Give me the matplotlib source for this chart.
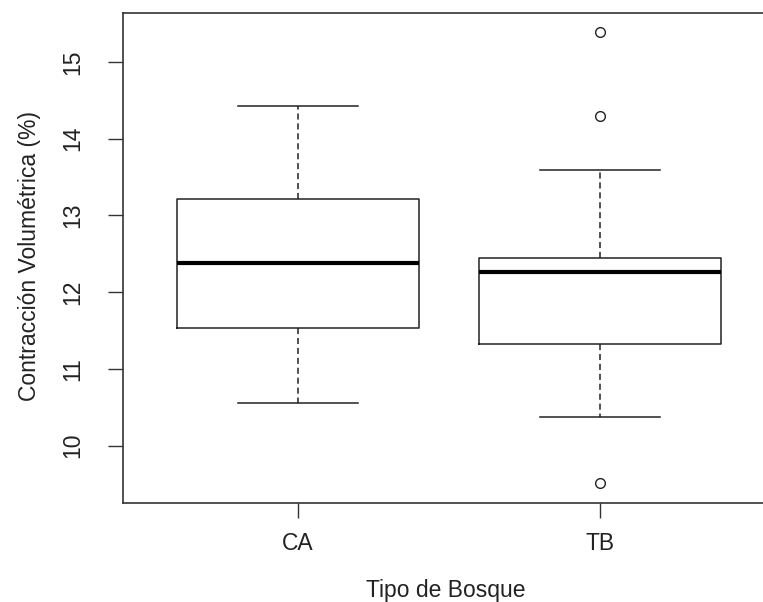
import matplotlib.pyplot as plt

plt.rcParams['font.family'] = ['Liberation Sans', 'DejaVu Sans']

# values
grupos = ['CA', 'TB']
bigote_inf = [10.56, 10.37]
q1 = [11.54, 11.32]
mediana = [12.38, 12.26]
q3 = [13.21, 12.44]
bigote_sup = [14.43, 13.59]
atipicos = [[], [15.39, 14.30, 9.51]]

stats = []
for i, g in enumerate(grupos):
    stats.append(dict(label=g, whislo=bigote_inf[i], q1=q1[i], med=mediana[i],
                      q3=q3[i], whishi=bigote_sup[i], fliers=atipicos[i]))

fig = plt.figure(figsize=(7.63, 6.02), dpi=100)
ax = fig.add_axes([123 / 763, 1 - 503 / 602, (775 - 123) / 763, (503 - 13) / 602])

tinta = '#222222'
ax.bxp(stats, positions=[1, 2], widths=0.8, showfliers=True,
       boxprops=dict(color=tinta, linewidth=1.1),
       medianprops=dict(color='black', linewidth=3),
       whiskerprops=dict(color=tinta, linewidth=1.1, linestyle=(0, (4, 2.5))),
       capprops=dict(color=tinta, linewidth=1.1),
       capwidths=0.4,
       flierprops=dict(marker='o', markerfacecolor='white', markeredgecolor=tinta,
                       markersize=7, markeredgewidth=1.0))

ax.set_xlim(0.42, 2.58)
ax.set_ylim(9.254, 15.638)
ax.set_yticks([10, 11, 12, 13, 14, 15])
ax.set_yticklabels(['10', '11', '12', '13', '14', '15'], rotation=90, va='center')
ax.set_xticks([1, 2])
ax.set_xticklabels(grupos)
ax.tick_params(axis='y', length=11, width=1, color='#333333', pad=17,
               labelsize=16.5, labelcolor=tinta)
ax.tick_params(axis='x', length=11, width=1, color='#333333', pad=10,
               labelsize=16.5, labelcolor=tinta)
for s in ax.spines.values():
    s.set_color('#333333')
    s.set_linewidth(1.2)

fig.text(30 / 763, 1 - 256 / 602, 'Contracción Volumétrica (%)', rotation=90,
         ha='center', va='center', fontsize=16.5, color=tinta)
fig.text(446 / 763, 1 - 590 / 602, 'Tipo de Bosque', ha='center', va='center',
         fontsize=16.5, color=tinta)

fig.savefig('out.png', dpi=100)
